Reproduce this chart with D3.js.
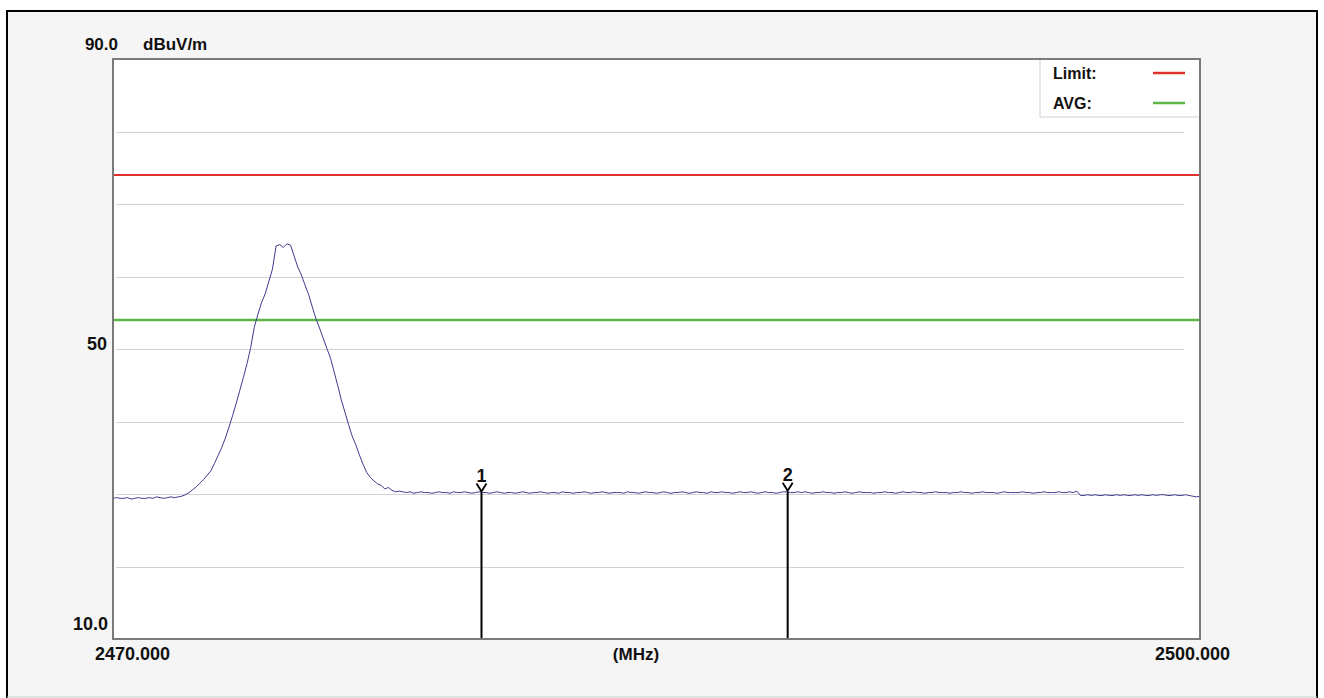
<!DOCTYPE html>
<html>
<head>
<meta charset="utf-8">
<script src="https://cdn.jsdelivr.net/npm/d3@7"></script>
<style>
  body { margin: 0; background: #fff; }
  svg text { font-family: "Liberation Sans", Arial, sans-serif; font-weight: bold; fill: #111; }
</style>
</head>
<body>
<svg id="chart" width="1324" height="698"></svg>
<script>
// spectrum trace, one value every 0.1 MHz from 2470.0 to 2500.0 (dBuV/m)
var levelLeft = [29.4, 29.5, 29.4, 29.4, 29.5, 29.3, 29.4, 29.5, 29.4, 29.4,
  29.5, 29.4, 29.6, 29.5, 29.4, 29.5, 29.6, 29.5, 29.6];
var levelPeak = [29.7, 29.9, 30.2, 30.6, 31.0, 31.5, 32.0, 32.6, 33.2, 34.2,
  35.3, 36.4, 37.7, 39.2, 40.8, 42.5, 44.3, 46.1, 48.0, 50.2,
  53.0, 54.8, 56.4, 57.6, 59.3, 61.0, 64.2, 64.4, 64.0, 64.5,
  64.3, 62.8, 61.3, 60.2, 58.8, 57.5, 55.8, 54.2, 52.9, 51.5,
  50.1, 48.8, 46.9, 45.0, 43.0, 41.3, 39.6, 38.0, 36.8, 35.4,
  34.1, 33.0, 32.3, 31.8, 31.4, 31.2, 30.7, 30.9, 30.5, 30.3,
  30.4];
var levelFloor = [30.3, 30.2, 30.3, 30.1, 30.2, 30.3, 30.2, 30.2, 30.1, 30.2,
  30.3, 30.2, 30.2, 30.1, 30.3, 30.2, 30.2, 30.3, 30.2, 30.1,
  30.2, 30.3, 30.2, 30.2, 30.1, 30.2, 30.3, 30.2, 30.1, 30.2,
  30.2, 30.1, 30.2, 30.3, 30.2, 30.1, 30.2, 30.2, 30.3, 30.2,
  30.1, 30.2, 30.2, 30.1, 30.3, 30.2, 30.2, 30.1, 30.2, 30.2,
  30.3, 30.2, 30.1, 30.2, 30.2, 30.3, 30.2, 30.1, 30.2, 30.2,
  30.2, 30.1, 30.3, 30.2, 30.2, 30.1, 30.2, 30.3, 30.2, 30.2,
  30.1, 30.2, 30.3, 30.2, 30.1, 30.2, 30.2, 30.3, 30.2, 30.1,
  30.2, 30.3, 30.2, 30.2, 30.1, 30.3, 30.2, 30.2, 30.3, 30.2,
  30.2, 30.1, 30.2, 30.3, 30.2, 30.2, 30.3, 30.2, 30.1, 30.2,
  30.3, 30.2, 30.2, 30.1, 30.2, 30.3, 30.3, 30.2, 30.2, 30.3,
  30.2, 30.3, 30.2, 30.1, 30.2, 30.2, 30.3, 30.2, 30.2, 30.1,
  30.2, 30.2, 30.3, 30.2, 30.1, 30.2, 30.3, 30.2, 30.2, 30.2,
  30.1, 30.2, 30.2, 30.3, 30.2, 30.2, 30.1, 30.2, 30.3, 30.2,
  30.2, 30.3, 30.2, 30.2, 30.1, 30.2, 30.2, 30.3, 30.2, 30.2,
  30.2, 30.1, 30.2, 30.2, 30.3, 30.2, 30.2, 30.1, 30.2, 30.2,
  30.3, 30.2, 30.2, 30.2, 30.1, 30.2, 30.3, 30.2, 30.2, 30.2,
  30.2, 30.3, 30.2, 30.2, 30.1, 30.2, 30.2, 30.3, 30.2, 30.2,
  30.2, 30.3, 30.2, 30.2, 30.3, 30.2, 30.4];
var levelTail = [29.8, 29.8, 29.9, 29.8, 29.9, 29.8, 29.8, 29.9, 29.8, 29.8,
  29.9, 29.8, 29.9, 29.8, 29.8, 29.9, 29.8, 29.9, 29.8, 29.8,
  29.9, 29.8, 29.9, 29.9, 29.8, 29.8, 29.9, 29.8, 29.8, 29.9,
  29.8, 29.7, 29.6, 29.7];

var limitLevel = 74;   // red
var avgLevel = 54;     // green
var markerLabels = ["1", "2"];
var markerFreqs = [2480.17, 2488.62];
var markerLevels = [30.2, 30.3];
var legendLabels = ["Limit:", "AVG:"];
var legendColors = ["#e0302c", "#5db544"];
var gridLevels = [20, 30, 40, 50, 60, 70, 80];

var levels = levelLeft.concat(levelPeak, levelFloor, levelTail);
var trace = levels.map(function(v, i) { return {f: 2470 + i * 0.1, v: v}; });

var plotLeft = 113, plotRight = 1200, plotTop = 59, plotBottom = 639;

var svg = d3.select("#chart");

// panel background and frame
svg.append("rect").attr("x", 7).attr("y", 11).attr("width", 1310).attr("height", 686)
  .attr("fill", "#f5f5f5");
svg.append("path").attr("d", "M7,698 L7,11 L1317,11 L1317,698")
  .attr("fill", "none").attr("stroke", "#000").attr("stroke-width", 2);
svg.append("line").attr("x1", 7).attr("x2", 1317).attr("y1", 697).attr("y2", 697)
  .attr("stroke", "#ccc");

var x = d3.scaleLinear().domain([2470, 2500]).range([plotLeft, plotRight]);
var y = d3.scaleLinear().domain([10, 90]).range([plotBottom, plotTop]);

svg.append("rect").attr("x", plotLeft).attr("y", plotTop)
  .attr("width", plotRight - plotLeft).attr("height", plotBottom - plotTop)
  .attr("fill", "#fff");

// grid
svg.selectAll(".grid").data(gridLevels).enter().append("line")
  .attr("class", "grid")
  .attr("x1", plotLeft + 3).attr("x2", plotRight - 16)
  .attr("y1", function(d) { return Math.round(y(d)) + 0.5; })
  .attr("y2", function(d) { return Math.round(y(d)) + 0.5; })
  .attr("stroke", "#d2d2d2").attr("stroke-width", 1);

// limit lines
svg.append("line").attr("x1", plotLeft).attr("x2", plotRight)
  .attr("y1", y(limitLevel)).attr("y2", y(limitLevel))
  .attr("stroke", legendColors[0]).attr("stroke-width", 2);
svg.append("line").attr("x1", plotLeft).attr("x2", plotRight)
  .attr("y1", y(avgLevel)).attr("y2", y(avgLevel))
  .attr("stroke", legendColors[1]).attr("stroke-width", 2.5);

// trace
var line = d3.line().x(function(d) { return x(d.f); }).y(function(d) { return y(d.v); });
svg.append("path").datum(trace).attr("d", line)
  .attr("fill", "none").attr("stroke", "#3c3c8c").attr("stroke-width", 1);

// markers
var mk = svg.selectAll(".marker").data(markerFreqs).enter().append("g")
  .attr("class", "marker")
  .attr("transform", function(d, i) { return "translate(" + x(d) + "," + y(markerLevels[i]) + ")"; });
mk.append("line").attr("x1", 0).attr("x2", 0).attr("y1", 0)
  .attr("y2", function(d, i) { return plotBottom - y(markerLevels[i]); })
  .attr("stroke", "#000").attr("stroke-width", 2);
mk.append("path").attr("d", "M-5,-9 L0,-1 L5,-9")
  .attr("fill", "none").attr("stroke", "#000").attr("stroke-width", 1.8);
mk.append("text").attr("x", 0).attr("y", -11).attr("text-anchor", "middle")
  .style("font-size", "18px")
  .text(function(d, i) { return markerLabels[i]; });

// legend
svg.append("rect").attr("x", 1040).attr("y", plotTop).attr("width", plotRight - 1040).attr("height", 58)
  .attr("fill", "#fff").attr("stroke", "#d0d0d0");
var lg = svg.selectAll(".legend").data(legendLabels).enter().append("g")
  .attr("class", "legend")
  .attr("transform", function(d, i) { return "translate(1053," + (73 + i * 30) + ")"; });
lg.append("text").attr("y", 6).style("font-size", "16px").text(function(d) { return d; });
lg.append("line").attr("x1", 100).attr("x2", 132).attr("y1", 0).attr("y2", 0)
  .attr("stroke", function(d, i) { return legendColors[i]; }).attr("stroke-width", 2.5);

// plot frame
svg.append("rect").attr("x", plotLeft).attr("y", plotTop)
  .attr("width", plotRight - plotLeft).attr("height", plotBottom - plotTop)
  .attr("fill", "none").attr("stroke", "#7a7a7a").attr("stroke-width", 2);

// axis labels
svg.append("text").attr("x", 118).attr("y", 50).attr("text-anchor", "end")
  .style("font-size", "17px").text("90.0");
svg.append("text").attr("x", 143).attr("y", 50)
  .style("font-size", "17px").text("dBuV/m");
svg.append("text").attr("x", 107).attr("y", 350).attr("text-anchor", "end")
  .style("font-size", "18px").text("50");
svg.append("text").attr("x", 108).attr("y", 630).attr("text-anchor", "end")
  .style("font-size", "18px").text("10.0");
svg.append("text").attr("x", 95).attr("y", 660)
  .style("font-size", "18px").text("2470.000");
svg.append("text").attr("x", 636).attr("y", 660).attr("text-anchor", "middle")
  .style("font-size", "17px").text("(MHz)");
svg.append("text").attr("x", 1230).attr("y", 660).attr("text-anchor", "end")
  .style("font-size", "18px").text("2500.000");
</script>
</body>
</html>
